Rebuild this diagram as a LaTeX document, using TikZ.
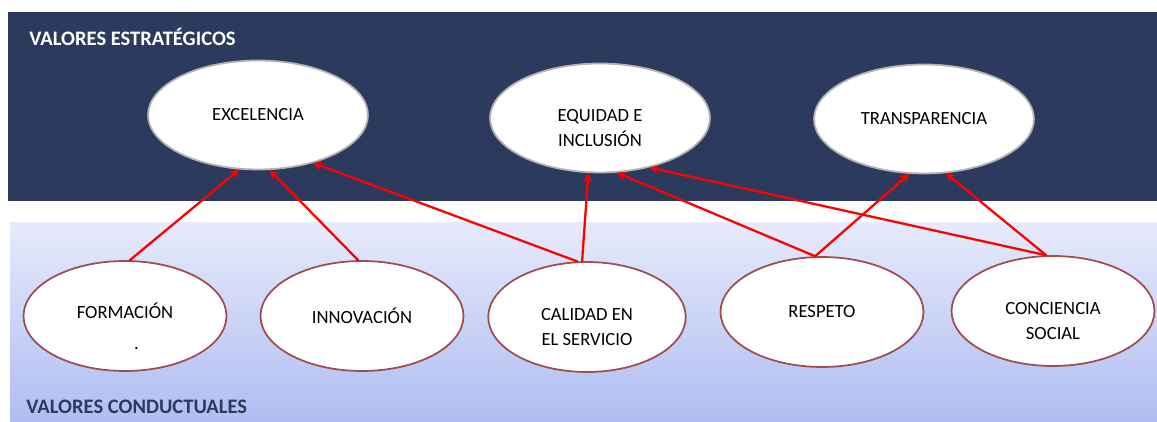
\documentclass[tikz,border=0pt]{standalone}
\usepackage{fontspec}
\setmainfont{Carlito}
\usetikzlibrary{shapes.geometric}
\definecolor{navy}{HTML}{2C3A5E}
\definecolor{lavtop}{HTML}{E6EAFB}
\definecolor{lavbot}{HTML}{AFBDF2}
\definecolor{rim}{HTML}{9E4E4E}
\begin{document}
\begin{tikzpicture}[x=0.02cm,y=0.02cm, line join=round, line cap=round, >=stealth,
	texto/.style={align=center, font=\fontsize{10.6}{14.5}\selectfont},
	estr/.style={ellipse, fill=white, draw=gray!60, line width=1pt, inner sep=0pt,
		minimum width=4.4cm, minimum height=2.18cm, texto},
	cond/.style={ellipse, fill=white, draw=rim, line width=1pt, inner sep=0pt,
		minimum width=4.06cm, minimum height=2.2cm, texto},
	dos/.style={label={[texto, inner sep=0pt, yshift=-0.2cm]center:{#1}}},
	arr/.style={-stealth, red, line width=1.3pt}]
	\useasboundingbox (0,0) rectangle (1157,422);
	% bandas
	\fill[navy] (8,221) rectangle (1157,410);
	\shade[top color=lavtop, bottom color=lavbot] (10,0) rectangle (1157,199);
	\node[anchor=west, inner sep=0pt, white, font=\fontsize{11.7}{14}\selectfont\bfseries] (tit1) at (29,385) {VALORES ESTRATÉGICOS};
	\node[anchor=west, inner sep=0pt, navy, font=\fontsize{11.7}{14}\selectfont\bfseries] (tit2) at (26,15) {VALORES CONDUCTUALES};
	% valores estrategicos
	\node[estr] (exc) at (258,307) {EXCELENCIA};
	\node[estr, dos={EQUIDAD E\\INCLUSIÓN}] (equ) at (600,304) {};
	\node[estr] (tra) at (924,303) {TRANSPARENCIA};
	% valores conductuales
	\node[cond, dos={FORMACIÓN\\[3pt]\hspace*{13pt}.}] (form) at (125,106) {};
	\node[cond] (inn) at (362,106) {INNOVACIÓN};
	\node[cond, minimum width=3.95cm, dos={CALIDAD EN\\EL SERVICIO}] (cal) at (587,105) {};
	\node[cond] (res) at (822,110) {RESPETO};
	\node[cond, dos={CONCIENCIA\\SOCIAL}] (con) at (1053,111) {};
	% flechas
	\foreach \a/\b in {form.85/exc.251, inn.94/exc.282, cal.100/exc.319, cal.95/equ.258,
		res.97/equ.287, con.97/equ.315, res.97/tra.255, con.97/tra.292}
		\draw[arr] (\a) -- (\b);
\end{tikzpicture}
\end{document}
